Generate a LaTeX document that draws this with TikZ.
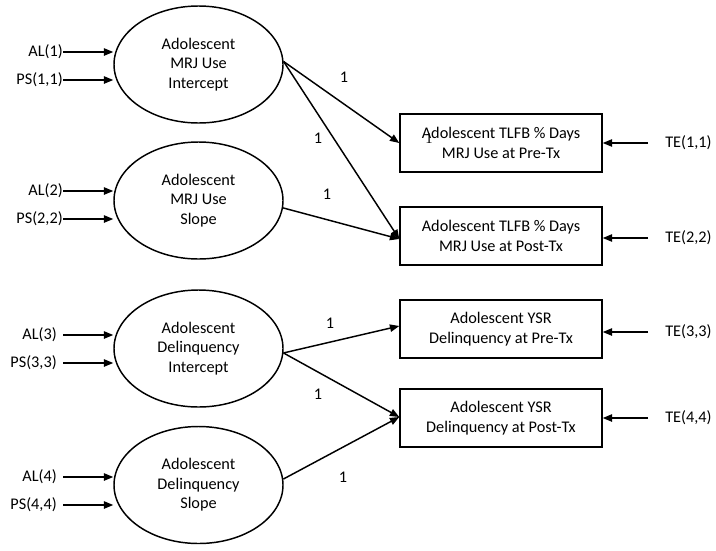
\documentclass[tikz,border=0pt]{standalone}
\usepackage{fontspec}
\setmainfont{Carlito}
\newfontfamily\serifone{Liberation Serif}
\usetikzlibrary{arrows.meta,shapes.geometric}
\tikzset{
	latent/.style={draw, ellipse, line width=1.1pt, minimum width=126.75pt, minimum height=87.75pt, align=center, inner sep=0pt},
	observed/.style={draw, rectangle, line width=1.1pt, minimum width=151.5pt, minimum height=43.5pt, align=center, inner sep=0pt},
	errlabel/.style={inner sep=0pt, anchor=east},
	telabel/.style={inner sep=0pt, anchor=west},
	weight/.style={inner sep=0pt},
	path/.style={line width=1.1pt, -{Triangle[length=7pt,width=5.5pt]}}
}

\begin{document}
\begin{tikzpicture}[x=0.75pt, y=-0.75pt, font=\fontsize{12.2}{14.6}\selectfont]
		%%%%% START %%%%%
		\useasboundingbox (0, 0) rectangle (716, 550);
		
		% latent growth factors
		\node[latent] (mrjint) at (198.5, 64.5) {Adolescent\\MRJ Use\\Intercept};
		\node[latent] (mrjslope) at (198.5, 200.5) {Adolescent\\MRJ Use\\Slope};
		\node[latent] (delint) at (198.5, 348.5) {Adolescent\\Delinquency\\Intercept};
		\node[latent] (delslope) at (198.5, 485) {Adolescent\\Delinquency\\Slope};
		
		% observed measures
		\node[observed] (tlfbpre) at (501, 143) {Adolescent TLFB \% Days\\MRJ Use at Pre-Tx};
		\node[observed] (tlfbpost) at (501, 236) {Adolescent TLFB \% Days\\MRJ Use at Post-Tx};
		\node[observed] (ysrpre) at (501, 329) {Adolescent YSR\\Delinquency at Pre-Tx};
		\node[observed] (ysrpost) at (501, 418) {Adolescent YSR\\Delinquency at Post-Tx};
		
		% means and variances
		\node[errlabel] (al1) at (63, 52) {AL(1)};
		\node[errlabel] (ps11) at (63, 80) {PS(1,1)};
		\node[errlabel] (al2) at (63, 191) {AL(2)};
		\node[errlabel] (ps22) at (63, 219) {PS(2,2)};
		\node[errlabel, inner xsep=4.5pt] (al3) at (63, 335) {AL(3)};
		\node[errlabel, inner xsep=4.5pt] (ps33) at (63, 363) {PS(3,3)};
		\node[errlabel, inner xsep=4.5pt] (al4) at (63, 477) {AL(4)};
		\node[errlabel, inner xsep=4.5pt] (ps44) at (63, 505) {PS(4,4)};
		
		\draw[path] (al1.east) -- (al1.east -| mrjint.west);
		\draw[path] (ps11.east) -- (ps11.east -| mrjint.west);
		\draw[path] (al2.east) -- (al2.east -| mrjslope.west);
		\draw[path] (ps22.east) -- (ps22.east -| mrjslope.west);
		\draw[path] (al3.east) -- (al3.east -| delint.west);
		\draw[path] (ps33.east) -- (ps33.east -| delint.west);
		\draw[path] (al4.east) -- (al4.east -| delslope.west);
		\draw[path] (ps44.east) -- (ps44.east -| delslope.west);
		
		% residuals
		\node[telabel] (te11) at (665, 143) {TE(1,1)};
		\node[telabel] (te22) at (665, 238) {TE(2,2)};
		\node[telabel] (te33) at (665, 332) {TE(3,3)};
		\node[telabel] (te44) at (665, 418) {TE(4,4)};
		
		\draw[path] ([xshift=-12.75pt]te11.west) -- (te11.west -| tlfbpre.east);
		\draw[path] ([xshift=-12.75pt]te22.west) -- (te22.west -| tlfbpost.east);
		\draw[path] ([xshift=-12.75pt]te33.west) -- (te33.west -| ysrpre.east);
		\draw[path] ([xshift=-12.75pt]te44.west) -- (te44.west -| ysrpost.east);
		
		% loadings
		\draw[path] (mrjint.2) -- (tlfbpre.west);
		\draw[path] (mrjint.2) -- ([yshift=-2.25pt]tlfbpost.west);
		\draw[path] (mrjslope.-5) -- ([yshift=-2.25pt]tlfbpost.west);
		\draw[path] (delint.-3) -- ([yshift=2.25pt]ysrpre.west);
		\draw[path] (delint.-3) -- ([yshift=0.75pt]ysrpost.west);
		\draw[path] (delslope.4) -- ([yshift=0.75pt]ysrpost.west);
		
		\node[weight] (w1) at (344, 77) {1};
		\node[weight] (w2) at (318, 138) {1};
		\node[weight] (w3) at (327, 194) {1};
		\node[weight] (w4) at (330, 323) {1};
		\node[weight] (w5) at (318, 394) {1};
		\node[weight] (w6) at (343, 477) {1};
		\node[weight, font=\serifone\fontsize{11}{13}\selectfont] (w7) at (429, 139) {1};
		
		%%%%% END %%%%%
\end{tikzpicture}
\end{document}
